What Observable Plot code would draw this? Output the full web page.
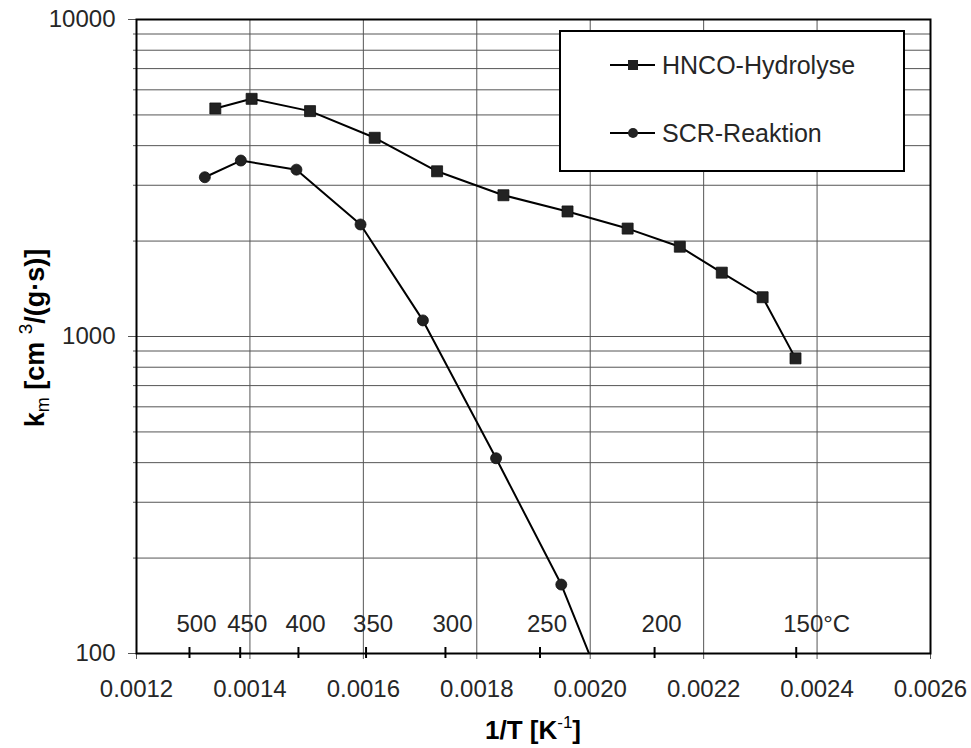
<!DOCTYPE html>
<html>
<head>
<meta charset="utf-8">
<script src="https://cdn.jsdelivr.net/npm/d3@7"></script>
<script src="https://cdn.jsdelivr.net/npm/@observablehq/plot@0.6"></script>
<style>
  body { margin: 0; background: #fff; }
  #chart { width: 971px; height: 748px; }
</style>
</head>
<body>
<div id="chart"></div>
<script>
// Rate constants k_m versus reciprocal temperature
const hncoInvT = [0.001339, 0.001403, 0.001506, 0.001620, 0.001730, 0.001847, 0.001960, 0.002066, 0.002158, 0.002232, 0.002304, 0.002362];
const hncoK    = [5240, 5620, 5140, 4235, 3320, 2790, 2480, 2190, 1920, 1590, 1330, 853];

const scrInvT  = [0.0013205, 0.001384, 0.001482, 0.001595, 0.001705, 0.001834, 0.001949, 0.002060];
const scrK     = [3180, 3590, 3360, 2256, 1124, 413, 165, 53];

const seriesNames = ["HNCO-Hydrolyse", "SCR-Reaktion"];

// Celsius scale shown along the bottom axis
const tempC      = [500, 450, 400, 350, 300, 250, 200, 150];
const tempLabels = ["500", "450", "400", "350", "300", "250", "200", "150°C"];

const xTicks = [0.0012, 0.0014, 0.0016, 0.0018, 0.0020, 0.0022, 0.0024, 0.0026];
const yTicks = [100, 1000, 10000];
const yGrid  = [100, 200, 300, 400, 500, 600, 700, 800, 900,
                1000, 2000, 3000, 4000, 5000, 6000, 7000, 8000, 9000, 10000];

const hnco = hncoInvT.map((x, i) => ({x, k: hncoK[i]}));
const scr  = scrInvT.map((x, i) => ({x, k: scrK[i]}));
const temps = tempC.map((c, i) => ({x: 1 / (c + 273.15), label: tempLabels[i], last: i === tempC.length - 1}));

const FONT = "Liberation Sans, Arial, sans-serif";
const INK = "#262626";
const GRID = "#555";

const plot = Plot.plot({
  width: 971,
  height: 748,
  marginLeft: 136,
  marginRight: 41,
  marginTop: 19,
  marginBottom: 95,
  style: {fontFamily: FONT, background: "#fff", color: INK},
  x: {domain: [0.0012, 0.0026], label: null},
  y: {type: "log", domain: [100, 10000], label: null},
  marks: [
    Plot.ruleY(yGrid, {stroke: GRID, strokeWidth: 1}),
    Plot.ruleX(xTicks, {stroke: GRID, strokeWidth: 1}),
    Plot.axisX({ticks: xTicks, tickSize: 6, tickPadding: 20, fontSize: 24, stroke: GRID,
                tickFormat: d => d.toFixed(4), fill: INK}),
    Plot.axisY({ticks: yGrid, tickSize: 3, tickFormat: () => "", stroke: GRID}),
    Plot.axisY({ticks: yTicks, tickSize: 8, tickPadding: 13, fontSize: 24, stroke: GRID,
                tickFormat: d => String(d), fill: INK}),
    Plot.frame({stroke: "#000", strokeWidth: 2}),
    // Celsius markers on the bottom axis
    Plot.ruleX(temps, {x: "x", y1: 100, y2: 100, insetTop: -6, insetBottom: -5, stroke: "#000", strokeWidth: 2}),
    Plot.text(temps.filter(d => !d.last), {x: "x", y: 100, text: "label", dy: -29, dx: 7, fontSize: 24, fill: INK}),
    Plot.text(temps.filter(d => d.last), {x: "x", y: 100, text: "label", dy: -29, dx: -13, textAnchor: "start", fontSize: 24, fill: INK}),
    // Data series
    Plot.line(hnco, {x: "x", y: "k", stroke: "#000", strokeWidth: 2, clip: true}),
    Plot.dot(hnco, {x: "x", y: "k", symbol: "square", r: 6.2, fill: "#222", stroke: "#111", strokeWidth: 0.8, clip: true}),
    Plot.line(scr, {x: "x", y: "k", stroke: "#000", strokeWidth: 2, clip: true}),
    Plot.dot(scr, {x: "x", y: "k", symbol: "circle", r: 5.5, fill: "#222", stroke: "#111", strokeWidth: 0.8, clip: true})
  ]
});

const svg = d3.select(plot);

// Axis titles with sub/superscripts
const yTitle = svg.append("text")
  .attr("transform", "translate(44,338) rotate(-90)")
  .attr("text-anchor", "middle")
  .attr("font-family", FONT).attr("font-weight", "bold").attr("font-size", 27).attr("fill", "#000");
yTitle.append("tspan").text("k");
yTitle.append("tspan").attr("font-size", 18).attr("font-weight", "normal").attr("dy", 5).text("m");
yTitle.append("tspan").attr("dy", -5).text(" [cm ");
yTitle.append("tspan").attr("font-size", 19).attr("font-weight", "normal").attr("dy", -12).text("3");
yTitle.append("tspan").attr("dy", 12).text("/(g·s)]");

const xTitle = svg.append("text")
  .attr("x", 533).attr("y", 739)
  .attr("text-anchor", "middle")
  .attr("font-family", FONT).attr("font-weight", "bold").attr("font-size", 26).attr("fill", "#000");
xTitle.append("tspan").text("1/T [K");
xTitle.append("tspan").attr("font-size", 17).attr("font-weight", "normal").attr("dy", -11).text("-1");
xTitle.append("tspan").attr("dy", 11).text("]");

// Legend box
const lg = svg.append("g").attr("font-family", FONT).attr("text-anchor", "start");
lg.append("rect").attr("x", 560).attr("y", 31).attr("width", 344).attr("height", 140)
  .attr("fill", "#fff").attr("stroke", "#000").attr("stroke-width", 2);
const items = [
  {name: seriesNames[0], y: 65, sym: "square"},
  {name: seriesNames[1], y: 133, sym: "circle"}
];
items.forEach(it => {
  lg.append("line").attr("x1", 610).attr("x2", 655).attr("y1", it.y).attr("y2", it.y)
    .attr("stroke", "#000").attr("stroke-width", 2);
  if (it.sym === "square") {
    lg.append("rect").attr("x", 628).attr("y", it.y - 5).attr("width", 10).attr("height", 10).attr("fill", "#222");
  } else {
    lg.append("circle").attr("cx", 633).attr("cy", it.y).attr("r", 5).attr("fill", "#222");
  }
  lg.append("text").attr("x", 662).attr("y", it.y).attr("dy", "0.35em").attr("text-anchor", "start")
    .attr("font-size", 25).attr("fill", INK).text(it.name);
});

document.getElementById("chart").appendChild(plot);
</script>
</body>
</html>
